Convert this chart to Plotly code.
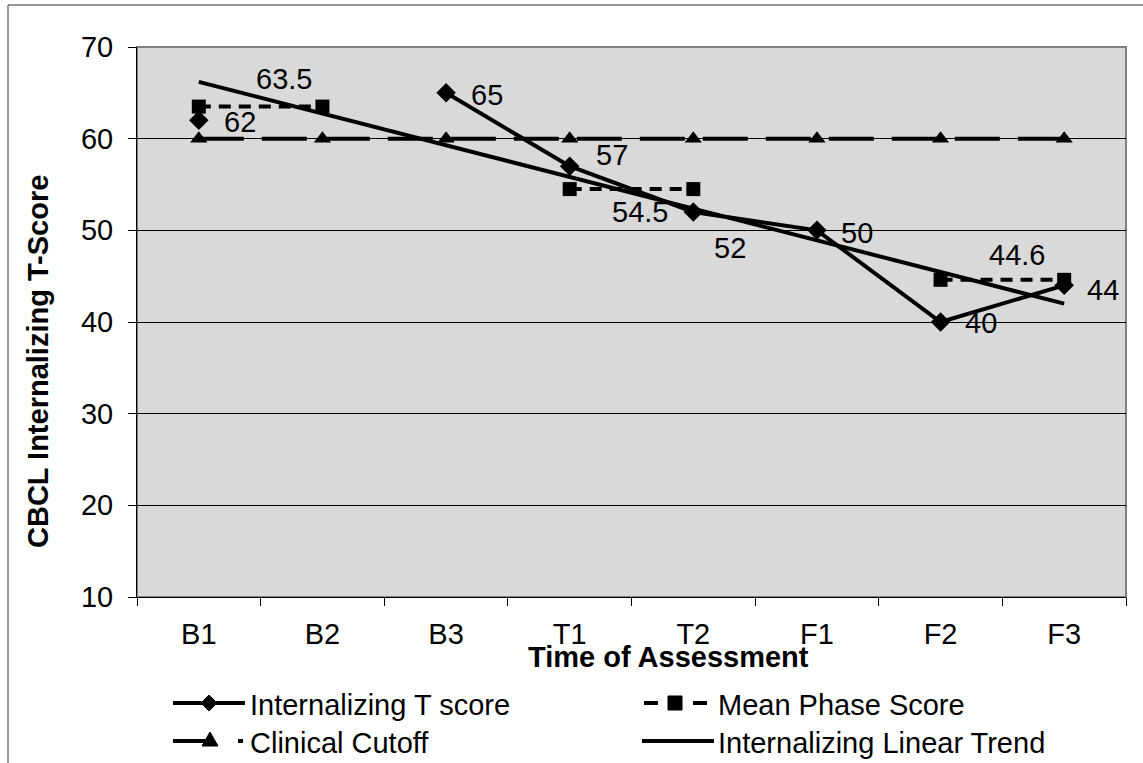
import plotly.graph_objects as go

# ---------------- data ----------------
categories = ["B1", "B2", "B3", "T1", "T2", "F1", "F2", "F3"]
internalizing_t = [62, None, 65, 57, 52, 50, 40, 44]
mean_phase = [63.5, 63.5, None, 54.5, 54.5, None, 44.6, 44.6]
clinical_cutoff = [60, 60, 60, 60, 60, 60, 60, 60]
trend_categories = ["B1", "F3"]
trend_values = [66.2, 42.0]
y_ticks = [10, 20, 30, 40, 50, 60, 70]
series_names = ["Internalizing T score", "Mean Phase Score",
                "Clinical Cutoff", "Internalizing Linear Trend"]

FONT = "Arial, Liberation Sans, sans-serif"
FS = 29

# plot-area geometry in page pixels
L, R, T, B = 137, 1126, 47, 597
W, H = R - L, B - T


def px(x):
    return (x - L) / W


def py(y):
    return (B - y) / H


fig = go.Figure()

fig.add_trace(go.Scatter(
    x=categories, y=internalizing_t, name=series_names[0],
    mode="lines+markers", connectgaps=False,
    line=dict(color="black", width=4),
    marker=dict(symbol="diamond", size=15, color="black"),
))
fig.add_trace(go.Scatter(
    x=categories, y=mean_phase, name=series_names[1],
    mode="lines+markers", connectgaps=False,
    line=dict(color="black", width=4, dash="12px,8px"),
    marker=dict(symbol="square", size=14, color="black"),
))
fig.add_trace(go.Scatter(
    x=categories, y=clinical_cutoff, name=series_names[2],
    mode="lines+markers",
    line=dict(color="black", width=4, dash="45px,18px"),
    marker=dict(symbol="triangle-up", size=15, color="black"),
))
fig.add_trace(go.Scatter(
    x=trend_categories, y=trend_values, name=series_names[3],
    mode="lines",
    line=dict(color="black", width=4),
))

# data labels: (category index, series, x offset, y offset)
label_specs = [
    (0, internalizing_t, 41, -2),
    (1, mean_phase, -38, 28),
    (2, internalizing_t, 41, -2),
    (3, internalizing_t, 42, 11),
    (4, mean_phase, -53, -23),
    (4, internalizing_t, 37, -36),
    (5, internalizing_t, 40, -3),
    (6, internalizing_t, 40, -1),
    (7, mean_phase, -47, 25),
    (7, internalizing_t, 39, -5),
]
for idx, series, dx, dy in label_specs:
    v = series[idx]
    fig.add_annotation(
        x=categories[idx], y=v, xref="x", yref="y",
        text=f"{v:g}", showarrow=False,
        xanchor="center", yanchor="middle",
        xshift=dx, yshift=dy,
        font=dict(family=FONT, size=FS, color="black"),
    )

# axis titles
fig.add_annotation(
    x=px(668), y=py(657), xref="paper", yref="paper",
    xanchor="center", yanchor="middle",
    text="<b>Time of Assessment</b>", showarrow=False,
    font=dict(family=FONT, size=FS, color="black"),
)
fig.add_annotation(
    x=px(38), y=py(362), xref="paper", yref="paper",
    xanchor="center", yanchor="middle",
    text="<b>CBCL Internalizing T-Score</b>", showarrow=False, textangle=-90,
    font=dict(family=FONT, size=FS, color="black"),
)

# plot-area border and outer chart border
fig.add_shape(type="rect", xref="paper", yref="paper", x0=0, x1=1, y0=0, y1=1,
              line=dict(color="#808080", width=2), layer="below")
fig.add_shape(type="rect", xref="paper", yref="paper",
              x0=px(8), x1=px(1170), y0=py(790), y1=py(5),
              line=dict(color="#333333", width=1))


# ---------------- custom legend ----------------
def seg(x0, x1, y, width=4):
    fig.add_shape(type="line", xref="paper", yref="paper",
                  x0=px(x0), x1=px(x1), y0=py(y), y1=py(y),
                  line=dict(color="black", width=width))


def poly(points):
    path = "M " + " L ".join(f"{px(a)},{py(b)}" for a, b in points) + " Z"
    fig.add_shape(type="path", xref="paper", yref="paper", path=path,
                  fillcolor="black", line=dict(color="black", width=1))


def legend_text(x, y, text):
    fig.add_annotation(x=px(x), y=py(y), xref="paper", yref="paper",
                       xanchor="left", yanchor="middle", text=text,
                       showarrow=False,
                       font=dict(family=FONT, size=FS, color="black"))


ROW1, ROW2 = 703, 741
# Internalizing T score: solid line + diamond
seg(173, 245, ROW1)
poly([(209, ROW1 - 8), (217, ROW1), (209, ROW1 + 8), (201, ROW1)])
legend_text(248, ROW1 + 2, series_names[0])
# Mean Phase Score: short dashes + square
seg(644, 658, ROW1)
seg(693, 707, ROW1)
poly([(668, ROW1 - 7), (682, ROW1 - 7), (682, ROW1 + 7), (668, ROW1 + 7)])
legend_text(716, ROW1 + 2, series_names[1])
# Clinical Cutoff: long dash + triangle + dot
seg(173, 212, ROW2)
poly([(210, ROW2 - 9), (218, ROW2 + 5), (202, ROW2 + 5)])
seg(238, 243, ROW2)
legend_text(248, ROW2 + 2, series_names[2])
# Linear trend: solid line
seg(642, 714, ROW2)
legend_text(716, ROW2 + 2, series_names[3])

fig.update_layout(
    width=1143, height=763,
    margin=dict(l=L, r=1143 - R, t=T, b=763 - B),
    paper_bgcolor="white", plot_bgcolor="#D9D9D9",
    font=dict(family=FONT, size=FS, color="black"),
    showlegend=False,
)
fig.update_xaxes(
    type="category", categoryorder="array", categoryarray=categories,
    range=[-0.5, 7.5], tickson="boundaries", ticks="outside", ticklen=8,
    tickcolor="black", showline=True, linecolor="black", linewidth=1,
    showgrid=False, ticklabelstandoff=11,
    tickfont=dict(family=FONT, size=FS, color="black"),
)
fig.update_yaxes(
    range=[10, 70], tickvals=y_ticks, ticks="outside", ticklen=8,
    tickcolor="black", showline=True, linecolor="black", linewidth=1,
    showgrid=True, gridcolor="black", gridwidth=1, zeroline=False,
    ticklabelstandoff=9,
    tickfont=dict(family=FONT, size=FS, color="black"),
)

fig.write_html(
    "out.html",
    config={"displayModeBar": False},
    post_script="document.body.style.margin='0';document.body.style.overflow='hidden';",
)
